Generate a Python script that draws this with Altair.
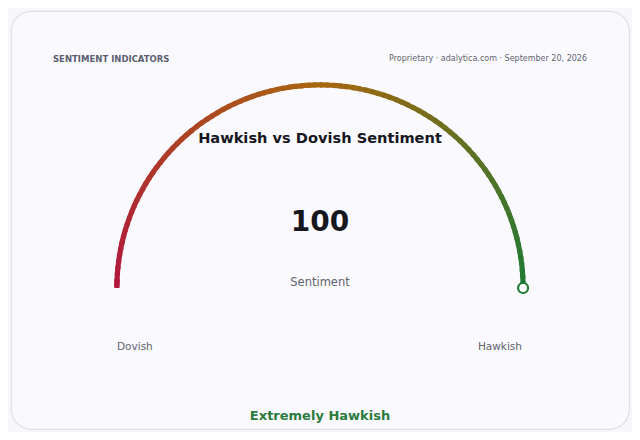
import math
import altair as alt
import pandas as pd

# ---- data ----
gauge_min = 0
gauge_max = 100
gauge_value = 100
header_left = ["SENTIMENT INDICATORS"]
header_right = ["Proprietary · adalytica.com · September 20, 2026"]
title_text = ["Hawkish vs Dovish Sentiment"]
center_label = ["Sentiment"]
end_labels = ["Dovish", "Hawkish"]
status_text = ["Extremely Hawkish"]
grad_stops = [0, 50, 100]
grad_colors = ["#b2173d", "#a8670f", "#1e7b34"]

W, H = 618, 418
CX, CY = 309, 277
R_OUT, R_IN = 205.7, 200.5
R_MID = (R_OUT + R_IN) / 2

seg = pd.DataFrame({"start": list(range(gauge_min, gauge_value))})
seg["end"] = seg["start"] + 1.4
seg["mid"] = seg["start"] + 0.5

theta_scale = alt.Scale(domain=[gauge_min, gauge_max], range=[-math.pi / 2, math.pi / 2])
color_scale = alt.Scale(domain=grad_stops, range=grad_colors, interpolate="rgb")

arcs = alt.Chart(seg).mark_arc(strokeWidth=0).encode(
    theta=alt.Theta("start:Q", scale=theta_scale, stack=None),
    theta2="end:Q",
    radius=alt.value(R_OUT),
    radius2=alt.value(R_IN),
    x=alt.value(CX),
    y=alt.value(CY),
    color=alt.Color("mid:Q", scale=color_scale, legend=None),
)

cap = alt.Chart(pd.DataFrame({"start": [gauge_min], "end": [gauge_min + 1.5]})).mark_arc(
    cornerRadius=2.5, color=grad_colors[0]
).encode(
    theta=alt.Theta("start:Q", scale=theta_scale, stack=None),
    theta2="end:Q",
    radius=alt.value(R_OUT),
    radius2=alt.value(R_IN),
    x=alt.value(CX),
    y=alt.value(CY),
)

marker = alt.Chart(pd.DataFrame({"v": [gauge_value]})).transform_calculate(
    ang=f"(datum.v - {gauge_min}) / ({gauge_max} - {gauge_min}) * PI - PI / 2",
    px="sin(datum.ang)",
    py="cos(datum.ang)",
).mark_point(shape="circle", size=100, filled=False, fill="white", fillOpacity=1,
             stroke=grad_colors[-1], strokeWidth=2.2, opacity=1).encode(
    x=alt.X("px:Q", scale=alt.Scale(domain=[-1, 1], range=[CX - R_MID, CX + R_MID]), axis=None),
    y=alt.Y("py:Q", scale=alt.Scale(domain=[0, 1], range=[CY, CY - R_MID]), axis=None),
)

FONT = "DejaVu Sans"

def text(values, x, y, size, color, weight="normal", align="center"):
    return alt.Chart(pd.DataFrame({"t": values})).mark_text(
        font=FONT, fontSize=size, fontWeight=weight, color=color, align=align, baseline="middle"
    ).encode(text="t:N", x=alt.value(x), y=alt.value(y))

texts = [
    text(header_left, 42, 48, 8.5, "#5b5e70", "bold", "left"),
    text(header_right, 576, 48, 8, "#62636f", "normal", "right"),
    text(title_text, CX, 128, 14.6, "#17171f", "bold"),
    text([str(gauge_value)], CX, 212, 28, "#17171f", "bold"),
    text(center_label, CX, 272, 11.5, "#62636f"),
    text([end_labels[0]], 106, 336, 10.5, "#62636f", "normal", "left"),
    text([end_labels[1]], 511, 336, 10.5, "#62636f", "normal", "right"),
    text(status_text, CX, 405, 13, "#2b7a3e", "bold"),
]

chart = alt.layer(arcs, cap, marker, *texts).properties(
    width=W, height=H, background="#f6f6fb", padding=3,
    autosize=alt.AutoSizeParams(type="none"),
).configure_view(
    fill="#fafafe", stroke="#dedfe8", strokeWidth=1.2, cornerRadius=20
)

chart.save("out.html", embed_options={"renderer": "svg", "actions": False})
